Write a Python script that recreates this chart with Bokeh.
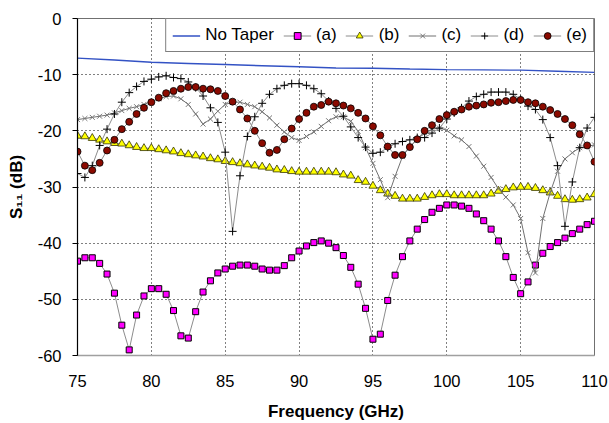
from bokeh.plotting import figure
from bokeh.models import FixedTicker, Legend, LegendItem, Range1d
from bokeh.embed import file_html
from bokeh.resources import INLINE

freq = [75.0, 75.5, 76.0, 76.5, 77.0, 77.5, 78.0, 78.5, 79.0, 79.5,
        80.0, 80.5, 81.0, 81.5, 82.0, 82.5, 83.0, 83.5, 84.0, 84.5,
        85.0, 85.5, 86.0, 86.5, 87.0, 87.5, 88.0, 88.5, 89.0, 89.5,
        90.0, 90.5, 91.0, 91.5, 92.0, 92.5, 93.0, 93.5, 94.0, 94.5,
        95.0, 95.5, 96.0, 96.5, 97.0, 97.5, 98.0, 98.5, 99.0, 99.5,
        100.0, 100.5, 101.0, 101.5, 102.0, 102.5, 103.0, 103.5, 104.0, 104.5,
        105.0, 105.5, 106.0, 106.5, 107.0, 107.5, 108.0, 108.5, 109.0, 109.5,
        110.0]

no_taper_freq = [75.0, 77.5, 80.0, 82.5, 85.0, 87.5, 90.0, 92.5, 95.0, 97.5,
                 100.0, 102.5, 105.0, 107.5, 110.0]
no_taper = [-7.05, -7.4, -7.8, -8.0, -8.2, -8.4, -8.6, -8.8, -8.85, -9.0,
            -9.1, -9.15, -9.2, -9.4, -9.6]

s_a = [-43.2, -42.6, -42.6, -43.6, -45.5, -48.9, -54.6, -59.0, -52.8, -49.4,
       -48.1, -48.1, -49.1, -52.0, -56.5, -56.9, -52.2, -48.7, -46.7, -45.3,
       -44.6, -44.1, -43.9, -43.9, -44.1, -44.6, -44.8, -44.8, -44.0, -42.6,
       -41.4, -40.5, -39.9, -39.6, -40.0, -40.8, -42.2, -44.3, -47.3, -51.6,
       -57.1, -56.2, -50.2, -45.7, -42.4, -39.6, -37.5, -35.8, -34.5, -33.8,
       -33.2, -33.2, -33.4, -33.8, -34.8, -36.0, -37.5, -39.6, -42.4, -46.1,
       -49.0, -46.9, -43.9, -41.8, -40.6, -39.9, -39.1, -38.3, -37.5, -36.7,
       -36.1]

s_b = [-20.9, -21.0, -21.3, -21.6, -21.9, -22.2, -22.3, -22.6, -22.9, -23.1,
       -23.1, -23.3, -23.5, -23.7, -24.0, -24.2, -24.4, -24.6, -24.9, -25.1,
       -25.4, -25.6, -25.8, -26.0, -26.2, -26.4, -26.6, -26.9, -27.0, -27.2,
       -27.3, -27.3, -27.3, -27.3, -27.3, -27.4, -27.8, -28.0, -28.8, -29.1,
       -29.8, -30.6, -31.2, -31.6, -32.1, -32.1, -32.1, -31.8, -31.5, -31.3,
       -31.3, -31.5, -31.5, -31.5, -31.5, -31.5, -31.2, -30.7, -30.4, -30.1,
       -30.0, -30.0, -30.2, -30.6, -31.0, -31.6, -32.2, -32.3, -32.2, -31.9,
       -31.3]

s_c = [-18.0, -17.8, -17.6, -17.4, -17.2, -16.8, -16.4, -16.0, -15.7, -15.3,
       -14.8, -14.3, -13.9, -13.8, -14.3, -15.3, -17.0, -18.8, -17.9, -16.5,
       -15.3, -14.9, -14.9, -15.3, -15.7, -16.6, -17.7, -19.0, -20.2, -21.2,
       -21.7, -21.0, -20.2, -19.2, -18.2, -17.5, -17.5, -18.3, -20.1, -23.0,
       -25.8, -28.7, -31.9, -28.1, -24.6, -22.8, -21.5, -20.4, -19.7, -19.5,
       -19.9, -20.9, -21.6, -22.8, -24.5, -26.3, -28.3, -30.3, -31.8, -33.2,
       -35.6, -41.7, -45.3, -35.6, -31.0, -27.2, -25.0, -23.9, -23.0, -22.8,
       -22.5]

s_d = [-27.6, -28.3, -26.2, -22.6, -19.7, -17.0, -14.9, -13.2, -12.1, -11.2,
       -10.8, -10.4, -10.2, -10.5, -10.7, -11.3, -12.3, -13.8, -15.9, -18.5,
       -23.8, -37.9, -28.0, -21.0, -17.5, -15.1, -13.5, -12.5, -11.9, -11.6,
       -11.6, -11.9, -12.5, -13.4, -14.7, -16.0, -17.4, -19.3, -21.2, -22.9,
       -24.0, -23.8, -23.0, -22.3, -21.9, -21.6, -21.2, -21.2, -20.4, -19.5,
       -17.9, -16.8, -15.9, -14.7, -13.9, -13.5, -13.1, -13.1, -13.1, -13.5,
       -14.4, -15.6, -16.2, -18.0, -21.2, -26.2, -37.0, -29.1, -23.0, -19.5,
       -17.6]

s_e = [-23.7, -26.2, -27.0, -25.7, -23.5, -21.6, -19.7, -18.4, -17.0, -15.9,
       -14.9, -14.1, -13.3, -12.9, -12.5, -12.2, -12.2, -12.5, -12.6, -12.9,
       -13.8, -14.8, -16.2, -17.8, -20.0, -22.2, -23.9, -23.4, -21.5, -19.6,
       -17.9, -16.8, -15.7, -15.4, -14.8, -15.1, -15.5, -16.0, -16.8, -17.8,
       -19.2, -20.8, -22.8, -24.3, -24.3, -22.9, -21.5, -20.0, -19.0, -17.9,
       -17.2, -16.6, -16.2, -15.7, -15.5, -15.3, -15.0, -14.9, -14.7, -14.5,
       -14.5, -14.9, -15.1, -15.7, -16.3, -17.0, -17.9, -19.0, -20.6, -22.6,
       -25.5]

x_ticks = [75, 80, 85, 90, 95, 100, 105, 110]
y_ticks = [-60, -50, -40, -30, -20, -10, 0]
labels = ["No Taper", "(a)", "(b)", "(c)", "(d)", "(e)"]

FONT = "Liberation Sans"

p = figure(width=609, height=423, x_range=Range1d(75, 110), y_range=Range1d(-60, 0),
           output_backend="svg", toolbar_location=None,
           min_border_left=77, min_border_right=15, min_border_top=18, min_border_bottom=65)
p.background_fill_color = "white"
p.border_fill_color = "white"
p.outline_line_color = "#707070"
p.outline_line_width = 1

# axes
xa = p.xaxis[0]
xa.ticker = FixedTicker(ticks=x_ticks)
xa.axis_line_color = "#a0a0a0"
xa.axis_line_width = 1.5
xa.major_tick_out = 0
xa.major_tick_in = 0
xa.minor_tick_line_color = None
xa.major_label_text_font = FONT
xa.major_label_text_font_size = "16.5px"
xa.major_label_text_color = "black"
xa.major_label_standoff = 19
xa.axis_label = "Frequency (GHz)"
xa.axis_label_text_font = FONT
xa.axis_label_text_font_style = "bold"
xa.axis_label_text_font_size = "17px"
xa.axis_label_text_color = "black"
xa.axis_label_standoff = 12

ya = p.yaxis[0]
ya.ticker = FixedTicker(ticks=y_ticks)
ya.major_label_overrides = {t: str(t) for t in y_ticks}
ya.axis_line_color = "black"
ya.axis_line_width = 1.2
ya.major_tick_out = 5
ya.major_tick_in = 0
ya.major_tick_line_color = "black"
ya.minor_tick_line_color = None
ya.major_label_text_font = FONT
ya.major_label_text_font_size = "16.5px"
ya.major_label_text_color = "black"
ya.major_label_standoff = 11
ya.axis_label = "S\u2081\u2081 (dB)"
ya.axis_label_text_font = FONT
ya.axis_label_text_font_style = "bold"
ya.axis_label_text_font_size = "17px"
ya.axis_label_text_color = "black"
ya.axis_label_standoff = 9

p.xgrid.ticker = FixedTicker(ticks=x_ticks[1:])
p.ygrid.ticker = FixedTicker(ticks=y_ticks[1:-1])
for g in (p.xgrid[0], p.ygrid[0]):
    g.grid_line_color = "black"
    g.grid_line_dash = "1 3"
    g.grid_line_width = 1

# series
r_nt = p.line(no_taper_freq, no_taper, line_color="#3352c4", line_width=1.4)

r_al = p.line(freq, s_a, line_color="#8c8c8c", line_width=1)
r_am = p.scatter(freq, s_a, marker="square", size=6, fill_color="#ff00ff",
                 line_color="black", line_width=1)

r_bl = p.line(freq, s_b, line_color="#8c8c8c", line_width=1)
r_bm = p.scatter(freq, s_b, marker="triangle", size=8, fill_color="#ffff00",
                 line_color="#333300", line_width=0.8)

r_cl = p.line(freq, s_c, line_color="#707070", line_width=1)
r_cm = p.scatter(freq, s_c, marker="x", size=7, line_color="#777777", line_width=1)

r_dl = p.line(freq, s_d, line_color="#8c8c8c", line_width=1)
r_dm = p.scatter(freq, s_d, marker="cross", size=8, line_color="black", line_width=1)

r_el = p.line(freq, s_e, line_color="#8c8c8c", line_width=1)
r_em = p.scatter(freq, s_e, marker="circle", size=7, fill_color="#8b0a00",
                 line_color="black", line_width=0.8)

items = [
    LegendItem(label=labels[0], renderers=[r_nt]),
    LegendItem(label=labels[1], renderers=[r_al, r_am]),
    LegendItem(label=labels[2], renderers=[r_bl, r_bm]),
    LegendItem(label=labels[3], renderers=[r_cl, r_cm]),
    LegendItem(label=labels[4], renderers=[r_dl, r_dm]),
    LegendItem(label=labels[5], renderers=[r_el, r_em]),
]
legend = Legend(items=items, orientation="horizontal", location="top_right",
                border_line_color="black", border_line_width=1,
                background_fill_color="white", background_fill_alpha=1,
                label_text_font=FONT, label_text_font_size="17px",
                label_text_color="black",
                glyph_width=28, glyph_height=17, label_height=17,
                label_standoff=5, spacing=9, padding=6, margin=0)
p.add_layout(legend)

open("out.html", "w").write(file_html(p, INLINE))
